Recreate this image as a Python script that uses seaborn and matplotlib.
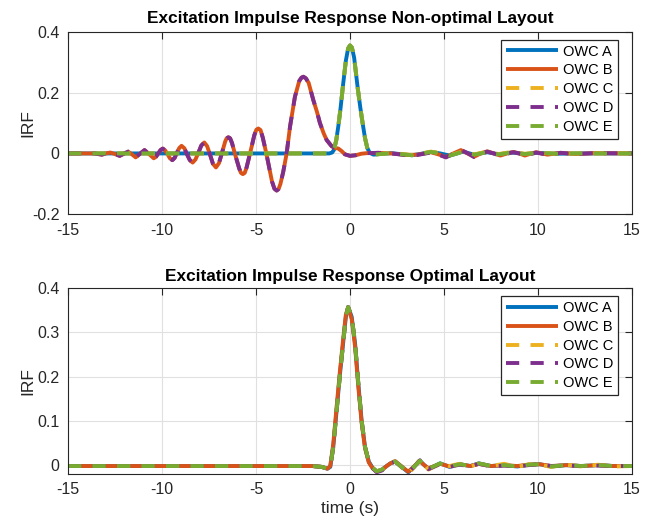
import matplotlib
matplotlib.use("Agg")
import matplotlib.pyplot as plt
from matplotlib.ticker import FuncFormatter, MultipleLocator
import seaborn as sns
import pandas as pd

# ---------------- data ----------------
series_names = ["OWC A", "OWC B", "OWC C", "OWC D", "OWC E"]
series_colors = ["#0072BD", "#D95319", "#EDB120", "#7E2F8E", "#77AC30"]

# Top panel: non-optimal layout
top_A_t = [-15, -1.1, -0.95, -0.85, -0.73, -0.62, -0.5, -0.37, -0.22, -0.1, 0.0, 0.1, 0.22,
           0.41, 0.55, 0.67, 0.8, 0.92, 1.05, 1.25, 1.6, 2.2, 2.8, 3.3, 3.8, 4.3, 4.8, 5.3,
           5.65, 6.0, 6.6, 7.3, 7.9, 8.6, 9.3, 10.0, 11.0, 12.0, 15.0]
top_A_v = [0.0, 0.0, 0.003, 0.012, 0.044, 0.090, 0.150, 0.225, 0.305, 0.345, 0.355, 0.348, 0.315,
           0.215, 0.150, 0.100, 0.050, 0.018, 0.002, -0.004, -0.002, 0.001, -0.003, -0.006, -0.001,
           0.005, 0.0, -0.007, -0.001, 0.006, -0.004, 0.004, -0.003, 0.003, -0.002, 0.002, -0.001,
           0.0, 0.0]
top_C_v = [0.0, 0.0, 0.003, 0.012, 0.044, 0.090, 0.150, 0.225, 0.305, 0.345, 0.355, 0.348, 0.315,
           0.215, 0.150, 0.100, 0.050, 0.018, 0.002, -0.004, -0.002, 0.002, -0.002, -0.005, 0.0,
           0.006, 0.001, -0.006, 0.0, 0.007, -0.003, 0.006, -0.002, 0.005, -0.001, 0.003, -0.001,
           0.0, 0.0]
top_E_v = [0.0, 0.0, 0.003, 0.012, 0.044, 0.090, 0.150, 0.225, 0.305, 0.345, 0.355, 0.348, 0.315,
           0.215, 0.150, 0.100, 0.050, 0.018, 0.002, -0.004, -0.002, 0.001, -0.003, -0.006, -0.001,
           0.005, 0.0, -0.007, -0.001, 0.006, -0.004, 0.004, -0.003, 0.003, -0.002, 0.002, -0.001,
           0.0, 0.0]

top_B_t = [-15, -13.6, -13.2, -12.98, -12.75, -12.5, -12.25, -12.03, -11.8, -11.6, -11.4, -11.17,
           -10.93, -10.69, -10.44, -10.32, -10.2, -10.08, -9.96, -9.83, -9.7, -9.58, -9.45, -9.33,
           -9.21, -9.08, -8.96, -8.81, -8.67, -8.52, -8.37, -8.22, -8.06, -7.91, -7.75, -7.6, -7.44,
           -7.29, -7.13, -6.97, -6.8, -6.64, -6.56, -6.47, -6.38, -6.28, -6.09, -5.89, -5.8, -5.7,
           -5.6, -5.5, -5.29, -5.09, -4.98, -4.88, -4.76, -4.64, -4.45, -4.15, -4.02, -3.9, -3.8,
           -3.7, -3.55, -3.37, -3.19, -2.93, -2.7, -2.58, -2.48, -2.35, -2.2,
           -1.95, -1.75, -1.6, -1.4, -1.24, -0.98, -0.8, -0.62, -0.45, -0.27, 0.0, 0.3, 0.6, 0.9,
           1.5, 2.2, 3.0, 3.6, 4.3, 4.75, 5.1, 5.5, 5.9, 6.25, 6.6, 6.95, 7.3, 7.65, 8.0, 8.35, 8.7,
           9.0, 9.3, 9.6, 9.9, 10.5, 11.2, 12.0, 13.0, 15.0]
top_B_v = [0.0, 0.0, -0.004, 0.0, 0.003, -0.002, -0.008, -0.001, 0.006, -0.003, -0.013, -0.001,
           0.011, -0.002, -0.016, -0.011, 0.0, 0.011, 0.016, 0.010, -0.003, -0.016, -0.022, -0.015,
           0.002, 0.018, 0.025, 0.017, -0.003, -0.022, -0.030, -0.020, 0.003, 0.026, 0.036, 0.024,
           -0.005, -0.034, -0.046, -0.032, 0.004, 0.039, 0.050, 0.053, 0.050, 0.035, -0.008,
           -0.050, -0.064, -0.068, -0.064, -0.046, 0.007, 0.060, 0.078, 0.082, 0.077, 0.052, 0.0,
           -0.092, -0.116, -0.122, -0.117, -0.100, -0.060, 0.0, 0.088, 0.186, 0.238, 0.249, 0.252,
           0.247, 0.232, 0.175, 0.135, 0.100, 0.066, 0.044, 0.024, 0.018, 0.016,
           0.008, -0.003, -0.008, -0.006, -0.001, 0.001, 0.002, 0.0, -0.005, -0.004, 0.004, -0.004,
           -0.012, 0.0, 0.011, 0.0, -0.011, 0.0, 0.007, 0.0, -0.007, 0.0, 0.005, 0.0, -0.007,
           -0.001, 0.004, -0.004, 0.002, -0.002, 0.001, 0.0]
top_D_v = [0.0, 0.0, -0.004, 0.0, 0.003, -0.002, -0.008, -0.001, 0.006, -0.003, -0.013, -0.001,
           0.011, -0.002, -0.016, -0.011, 0.0, 0.011, 0.016, 0.010, -0.003, -0.016, -0.022, -0.015,
           0.002, 0.018, 0.025, 0.017, -0.003, -0.022, -0.030, -0.020, 0.003, 0.026, 0.036, 0.024,
           -0.005, -0.034, -0.046, -0.032, 0.004, 0.039, 0.050, 0.053, 0.050, 0.035, -0.008,
           -0.050, -0.064, -0.068, -0.064, -0.046, 0.007, 0.060, 0.078, 0.082, 0.077, 0.052, 0.0,
           -0.092, -0.116, -0.122, -0.117, -0.100, -0.060, 0.0, 0.088, 0.186, 0.238, 0.249, 0.252,
           0.247, 0.232, 0.175, 0.135, 0.100, 0.066, 0.044, 0.024, 0.018, 0.016,
           0.008, -0.003, -0.008, -0.006, -0.001, 0.001, 0.002, 0.0, -0.006, -0.005, 0.003, -0.005,
           -0.013, -0.001, 0.012, 0.001, -0.012, -0.001, 0.006, 0.0, -0.008, -0.001, 0.004, 0.0,
           -0.008, -0.002, 0.003, -0.005, 0.002, -0.002, 0.001, 0.0]

# Bottom panel: optimal layout
bot_t = [-15, -2.0, -1.5, -1.2, -1.05, -0.89, -0.71, -0.53, -0.35, -0.22, -0.1, 0.09, 0.27, 0.44,
         0.62, 0.80, 1.0, 1.2, 1.42, 1.7, 1.95, 2.15, 2.4, 2.75, 3.1, 3.4, 3.72, 3.95, 4.17, 4.5,
         4.79, 5.05, 5.3, 5.6, 5.85, 6.4, 6.85, 7.5, 8.2, 8.9, 9.5, 10.1, 10.7, 11.5, 12.3, 13.2,
         14.0, 15]
bot_A_v = [-0.002, -0.002, -0.004, -0.008, -0.004, 0.041, 0.124, 0.207, 0.282, 0.335, 0.357, 0.335,
           0.275, 0.185, 0.100, 0.041, 0.008, -0.006, -0.014, -0.010, -0.002, 0.004, 0.008, -0.004,
           -0.016, -0.004, 0.010, 0.000, -0.008, -0.002, 0.004, 0.000, -0.004, 0.000, 0.002, -0.002,
           0.004, -0.002, 0.000, -0.003, 0.001, 0.002, -0.003, 0.000, -0.002, 0.000, -0.002, -0.002]
bot_B_v = [-0.002, -0.002, -0.004, -0.008, -0.002, 0.048, 0.133, 0.215, 0.290, 0.340, 0.356, 0.330,
           0.268, 0.178, 0.095, 0.038, 0.006, -0.007, -0.014, -0.011, -0.002, 0.004, 0.009, -0.003,
           -0.015, -0.003, 0.009, 0.000, -0.007, -0.002, 0.003, 0.000, -0.003, 0.000, 0.002, -0.002,
           0.003, -0.002, 0.000, -0.002, 0.001, 0.002, -0.002, 0.000, -0.002, 0.000, -0.002, -0.002]
bot_C_v = [-0.002, -0.002, -0.004, -0.008, -0.004, 0.041, 0.124, 0.207, 0.282, 0.335, 0.357, 0.335,
           0.275, 0.185, 0.100, 0.041, 0.008, -0.006, -0.014, -0.011, -0.002, 0.005, 0.009, -0.005,
           -0.020, -0.005, 0.013, 0.001, -0.010, -0.003, 0.002, 0.001, -0.002, 0.001, 0.003, -0.003,
           0.003, -0.002, 0.003, -0.004, 0.002, 0.001, -0.004, 0.001, -0.003, 0.001, -0.003, -0.002]
bot_D_v = [-0.002, -0.002, -0.004, -0.008, -0.004, 0.041, 0.124, 0.207, 0.282, 0.335, 0.357, 0.335,
           0.275, 0.185, 0.100, 0.041, 0.008, -0.007, -0.016, -0.012, -0.003, 0.004, 0.008, -0.004,
           -0.017, -0.004, 0.011, 0.000, -0.009, -0.003, 0.003, 0.000, -0.004, -0.001, 0.001, -0.003,
           0.003, -0.003, -0.001, -0.003, 0.000, 0.002, -0.002, -0.001, -0.002, -0.001, -0.002, -0.002]
bot_E_v = [-0.002, -0.002, -0.004, -0.008, -0.004, 0.041, 0.124, 0.207, 0.282, 0.335, 0.357, 0.335,
           0.275, 0.185, 0.100, 0.041, 0.008, -0.006, -0.014, -0.010, -0.002, 0.004, 0.008, -0.004,
           -0.016, -0.004, 0.010, 0.000, -0.008, -0.002, 0.004, 0.000, -0.004, 0.000, 0.002, -0.002,
           0.004, -0.002, 0.000, -0.003, 0.001, 0.002, -0.003, 0.000, -0.002, 0.000, -0.002, -0.002]

x_ticks = [-15, -10, -5, 0, 5, 10, 15]
top_title = "Excitation Impulse Response Non-optimal Layout"
bot_title = "Excitation Impulse Response Optimal Layout"

# ---------------- styling ----------------
sns.set_style("white")
plt.rcParams["font.family"] = ["Liberation Sans", "DejaVu Sans"]
plt.rcParams["axes.unicode_minus"] = False
TXT = "#262626"

fig = plt.figure(figsize=(6.51, 5.22), dpi=100)
ax_top = fig.add_axes([68 / 651, 1 - 214.3 / 522, 564 / 651, (214.3 - 31.7) / 522])
ax_bot = fig.add_axes([68 / 651, 1 - 474 / 522, 564 / 651, (474 - 288) / 522])

top_sets = [(top_A_t, top_A_v), (top_B_t, top_B_v), (top_A_t, top_C_v),
            (top_B_t, top_D_v), (top_A_t, top_E_v)]
bot_sets = [(bot_t, bot_A_v), (bot_t, bot_B_v), (bot_t, bot_C_v),
            (bot_t, bot_D_v), (bot_t, bot_E_v)]

LW = 2.8
for ax, sets in [(ax_top, top_sets), (ax_bot, bot_sets)]:
    for i, ((tt, vv), name, col) in enumerate(zip(sets, series_names, series_colors)):
        df = pd.DataFrame({"t": tt, "v": vv})
        sns.lineplot(data=df, x="t", y="v", ax=ax, color=col, lw=LW, label=name,
                     sort=False, estimator=None)
        ln = ax.get_lines()[-1]
        if i >= 2:
            ln.set_dashes((3.4, 2.9))
        ln.set_solid_capstyle("butt")
        ln.set_dash_capstyle("butt")
        ln.set_solid_joinstyle("round")
        ln.set_dash_joinstyle("round")

def fmt(v, pos):
    return "%g" % round(v, 3)

for ax in (ax_top, ax_bot):
    ax.set_xlim(-15, 15)
    ax.set_xticks(x_ticks)
    ax.xaxis.set_major_formatter(FuncFormatter(fmt))
    ax.yaxis.set_major_formatter(FuncFormatter(fmt))
    ax.grid(True, color="#e0e0e0", lw=0.8)
    ax.set_axisbelow(True)
    for sp in ax.spines.values():
        sp.set_color(TXT)
        sp.set_linewidth(0.8)
        sp.set_visible(True)
    ax.tick_params(direction="in", length=5, width=0.8, colors=TXT, labelcolor=TXT,
                   labelsize=11.5, top=True, right=True, pad=6)
    ax.set_ylabel("IRF", fontsize=12.5, color=TXT)
    ax.yaxis.set_label_coords(-0.058, 0.5)
    leg = ax.legend(loc="upper right", bbox_to_anchor=(0.975, 0.955), fontsize=10.5,
                    frameon=True, fancybox=False, framealpha=1, edgecolor=TXT,
                    handlelength=3.6, handletextpad=0.3, labelspacing=0.33,
                    borderpad=0.32, borderaxespad=0)
    leg.get_frame().set_linewidth(0.9)
    for t in leg.get_texts():
        t.set_color("#000000")

ax_top.set_ylim(-0.2, 0.4)
ax_top.yaxis.set_major_locator(MultipleLocator(0.2))
ax_bot.set_ylim(-0.02, 0.4)
ax_bot.set_yticks([0, 0.1, 0.2, 0.3, 0.4])
ax_top.set_xlabel("")
ax_bot.set_xlabel("time (s)", fontsize=12.5, color=TXT, labelpad=3)
ax_top.set_title(top_title, fontsize=12.4, fontweight="bold", color="#000000", pad=6)
ax_bot.set_title(bot_title, fontsize=12.4, fontweight="bold", color="#000000", pad=5)

fig.savefig("out.png", dpi=100)
